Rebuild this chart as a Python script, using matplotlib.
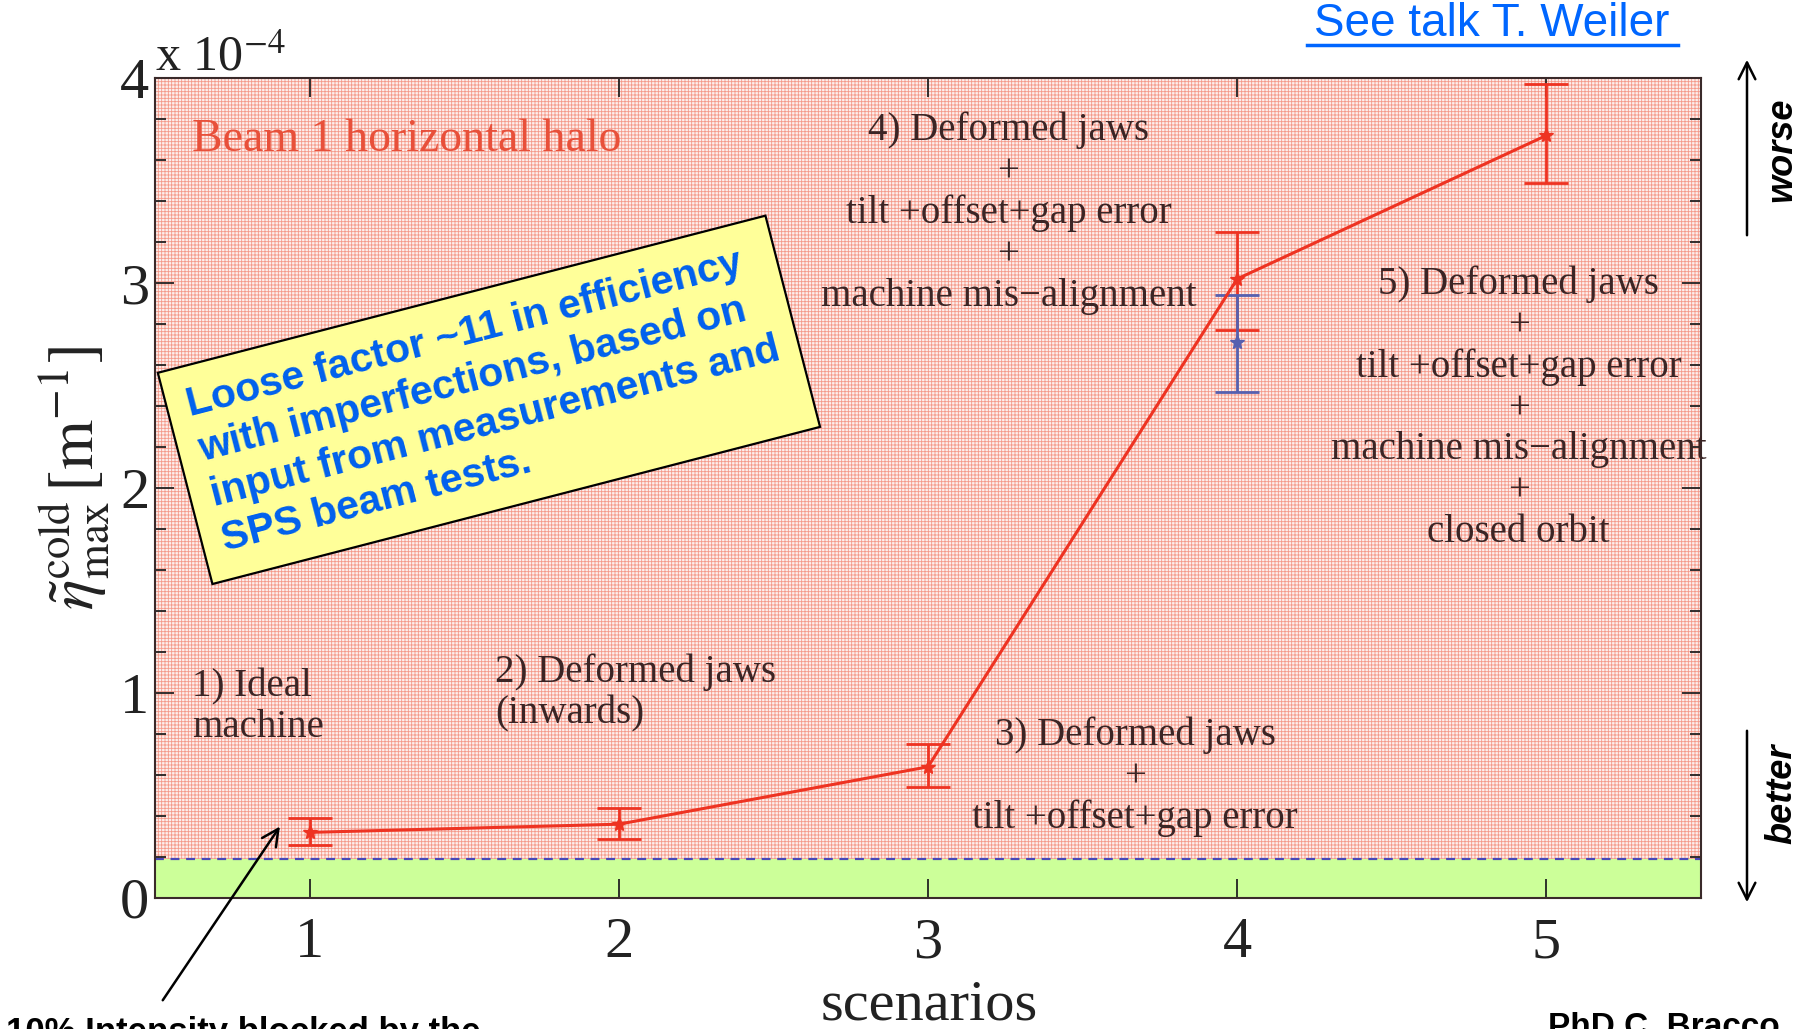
import numpy as np
import matplotlib
matplotlib.use("Agg")
import matplotlib.pyplot as plt
from matplotlib.ticker import MultipleLocator

plt.rcParams['font.family'] = ['Liberation Serif', 'DejaVu Serif']
plt.rcParams['mathtext.fontset'] = 'stix'
plt.rcParams['hatch.linewidth'] = 0.6

# values in units of 1e-4 m^-1
scenarios = [1, 2, 3, 4, 5]
eta_red = np.array([0.32, 0.36, 0.64, 3.02, 3.72])
eta_red_lo = np.array([0.26, 0.29, 0.54, 2.77, 3.49])
eta_red_hi = np.array([0.39, 0.44, 0.75, 3.25, 3.97])

blue_x = [4]
eta_blue = np.array([2.71])
eta_blue_lo = np.array([2.47])
eta_blue_hi = np.array([2.94])

quench_limit = 0.19

scenario_labels = [
    "1) Ideal\nmachine",
    "2) Deformed jaws\n(inwards)",
    "3) Deformed jaws\n+\ntilt +offset+gap error",
    "4) Deformed jaws\n+\ntilt +offset+gap error\n+\nmachine mis\u2212alignment",
    "5) Deformed jaws\n+\ntilt +offset+gap error\n+\nmachine mis\u2212alignment\n+\nclosed orbit",
]

W, H = 1805, 1029
fig = plt.figure(figsize=(W / 100, H / 100), dpi=100)

def fx(px):
    return px / W

def fy(py):
    return 1 - py / H

ax = fig.add_axes([fx(155), fy(898), fx(1701) - fx(155), fy(78) - fy(898)])
ax.set_xlim(0.5, 5.5)
ax.set_ylim(0, 4)

# backgrounds: pink grid above the limit, green below
ax.axhspan(quench_limit, 4, facecolor='#fdeeec', edgecolor='#f49a8a',
           hatch='+++++', linewidth=0, zorder=0)
ax.axhspan(0, quench_limit, facecolor='#ccff99', linewidth=0, zorder=0)
ax.axhline(quench_limit, color='#4848b8', ls=(0, (4, 3)), lw=1.6, zorder=1)

red = '#ee3322'
blue = '#5560b0'
ax.errorbar(scenarios, eta_red, yerr=[eta_red - eta_red_lo, eta_red_hi - eta_red],
            color=red, lw=2.2, marker='*', ms=10, capsize=16, capthick=2, elinewidth=2,
            zorder=3)
ax.errorbar(blue_x, eta_blue, yerr=[eta_blue - eta_blue_lo, eta_blue_hi - eta_blue],
            color=blue, lw=0, marker='*', ms=10, capsize=16, capthick=2, elinewidth=2,
            zorder=3)

ax.set_xticks(scenarios)
ax.set_yticks([0, 1, 2, 3, 4])
ax.yaxis.set_minor_locator(MultipleLocator(0.2))
ax.tick_params(which='both', direction='in', top=True, right=True, labelsize=42,
               colors='#222222')
ax.tick_params(which='major', length=14, width=1.3)
ax.tick_params(which='minor', length=8, width=1.3)
ax.tick_params(axis='x', pad=14)
ax.tick_params(axis='x', which='minor', top=False, bottom=False)
ax.tick_params(axis='y', pad=4)
for s in ax.spines.values():
    s.set_color('#3a2a2a')
    s.set_linewidth(1.5)

txt_col = '#3b2525'
ax.text(0.62, 0.93, scenario_labels[0], fontsize=28, color=txt_col, ha='left', va='center',
        linespacing=1.15)
ax.text(1.6, 1.0, scenario_labels[1], fontsize=28, color=txt_col, ha='left', va='center',
        linespacing=1.15)
ax.text(3.67, 0.59, scenario_labels[2], fontsize=28, color=txt_col, ha='center', va='center',
        linespacing=1.15)
ax.text(3.26, 3.34, scenario_labels[3], fontsize=28, color=txt_col, ha='center', va='center',
        linespacing=1.15)
ax.text(4.91, 2.39, scenario_labels[4], fontsize=28, color=txt_col, ha='center', va='center',
        linespacing=1.15, clip_on=False)

ax.text(0.62, 3.7, "Beam 1 horizontal halo", fontsize=33, color='#e8503a',
        ha='left', va='center')

ax.text(1.58, 2.43,
        "Loose factor ~11 in efficiency\nwith imperfections, based on\n"
        "input from measurements and\nSPS beam tests.",
        family=['Liberation Sans', 'DejaVu Sans'], fontweight='bold', fontsize=29.5,
        color='#0060ee', ha='center', va='center', multialignment='left', rotation=14.5,
        linespacing=1.28, zorder=5,
        bbox=dict(boxstyle='square,pad=0.5', fc='#ffff99', ec='black', lw=1.6))

ax.annotate("", xy=(0.909, 0.36), xytext=(0.52, -0.51), xycoords='data',
            annotation_clip=False,
            arrowprops=dict(arrowstyle='->', color='black', lw=1.8, mutation_scale=30))

# axis labels and exponent
fig.text(fx(155), fy(70), r"x 10$^{-4}$", fontsize=36, ha='left', va='baseline',
         color='#222222')
fig.text(fx(929), fy(1005), "scenarios", fontsize=42, ha='center', va='center',
         color='#222222')
fig.text(fx(75), fy(478), r"$\tilde{\eta}_{\rm max}^{\rm cold}\,[\rm m^{-1}]$",
         fontsize=46, rotation=90, ha='center', va='center', color='#222222')

# annotations outside the plot
sans = ['Liberation Sans', 'DejaVu Sans']
fig.text(fx(1492), fy(24), "See talk T. Weiler", family=sans, fontsize=33,
         color='#0066ff', ha='center', va='center')
fig.add_artist(plt.Line2D([fx(1307), fx(1678)], [fy(45), fy(45)], color='#0066ff', lw=2.5))

fig.text(fx(6), fy(1016), "10% Intensity blocked by the", family=sans, fontsize=25,
         fontweight='bold', ha='left', va='top')
fig.text(fx(1548), fy(1012), "PhD C. Bracco", family=sans, fontsize=24,
         fontweight='bold', ha='left', va='top')

fig.add_artist(matplotlib.patches.FancyArrowPatch((fx(1747), fy(238)), (fx(1747), fy(57)),
               transform=fig.transFigure, arrowstyle='->', mutation_scale=30,
               color='black', lw=1.8))
fig.add_artist(matplotlib.patches.FancyArrowPatch((fx(1747), fy(728)), (fx(1747), fy(905)),
               transform=fig.transFigure, arrowstyle='->', mutation_scale=30,
               color='black', lw=1.8))
fig.text(fx(1782), fy(150), "worse", family=sans, fontsize=26, fontweight='bold',
         fontstyle='italic', rotation=90, ha='center', va='center')
fig.text(fx(1782), fy(794), "better", family=sans, fontsize=26, fontweight='bold',
         fontstyle='italic', rotation=90, ha='center', va='center')

fig.savefig("out.png", dpi=100)
